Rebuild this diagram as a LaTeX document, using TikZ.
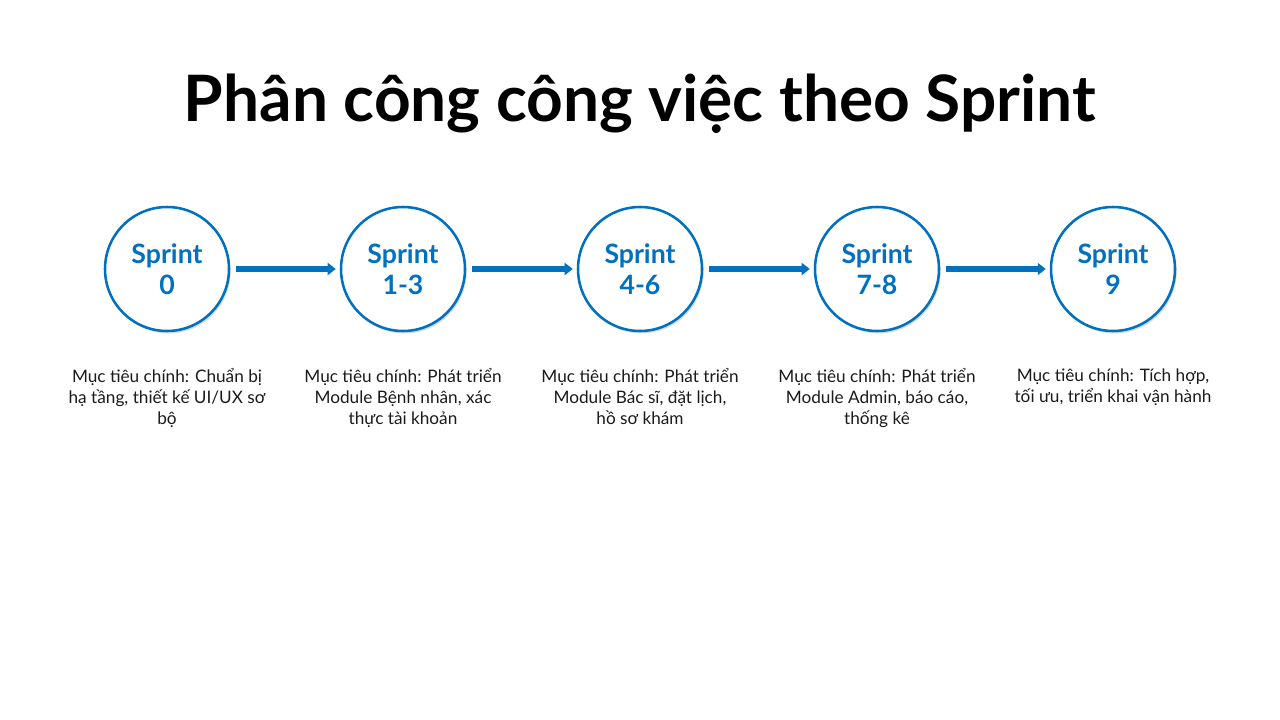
\documentclass[tikz,border=0pt]{standalone}
\usepackage{fontspec}
\setmainfont{Lato}
\usetikzlibrary{shadows,arrows.meta}
\definecolor{sblue}{HTML}{0070C0}
\definecolor{txt}{HTML}{1A1A1A}
\tikzset{
  sprint/.style={circle, draw=sblue, line width=1.9pt, fill=white, minimum size=93pt, inner sep=0pt,
    align=center, text=sblue, font=\fontsize{20}{23}\selectfont\bfseries,
    drop shadow={shadow xshift=1.2pt, shadow yshift=-1.8pt, opacity=0.25, fill=black!60}},
  desc/.style={align=center, text=txt, font=\fontsize{12.9}{15.8}\selectfont, anchor=north},
  flow/.style={draw=sblue, line width=3.8pt, -{Triangle[length=6pt,width=9pt]}}
}
\begin{document}
\begin{tikzpicture}[x=0.75pt,y=-0.75pt]
\useasboundingbox (0,0) rectangle (1280,720);
\node[font=\fontsize{48}{55}\selectfont\bfseries, text=black] (title) at (640,103.5) {Phân công công việc theo Sprint};
\node[sprint] (s0) at (167,269) {Sprint\\0};
\node[sprint] (s1) at (403,269) {Sprint\\1-3};
\node[sprint] (s2) at (640,269) {Sprint\\4-6};
\node[sprint] (s3) at (877,269) {Sprint\\7-8};
\node[sprint] (s4) at (1113,269) {Sprint\\9};
\draw[flow] ([xshift=4.5pt]s0.east) -- ([xshift=-3pt]s1.west);
\draw[flow] ([xshift=4.5pt]s1.east) -- ([xshift=-3pt]s2.west);
\draw[flow] ([xshift=4.5pt]s2.east) -- ([xshift=-3pt]s3.west);
\draw[flow] ([xshift=4.5pt]s3.east) -- ([xshift=-3pt]s4.west);
\node[desc] (d0) at (167,364) {Mục tiêu chính: Chuẩn bị\\hạ tầng, thiết kế UI/UX sơ\\bộ};
\node[desc] (d1) at (403,364) {Mục tiêu chính: Phát triển\\Module Bệnh nhân, xác\\thực tài khoản};
\node[desc] (d2) at (640,364) {Mục tiêu chính: Phát triển\\Module Bác sĩ, đặt lịch,\\hồ sơ khám};
\node[desc] (d3) at (877,364) {Mục tiêu chính: Phát triển\\Module Admin, báo cáo,\\thống kê};
\node[desc] (d4) at (1113,364) {Mục tiêu chính: Tích hợp,\\tối ưu, triển khai vận hành};
\end{tikzpicture}
\end{document}
